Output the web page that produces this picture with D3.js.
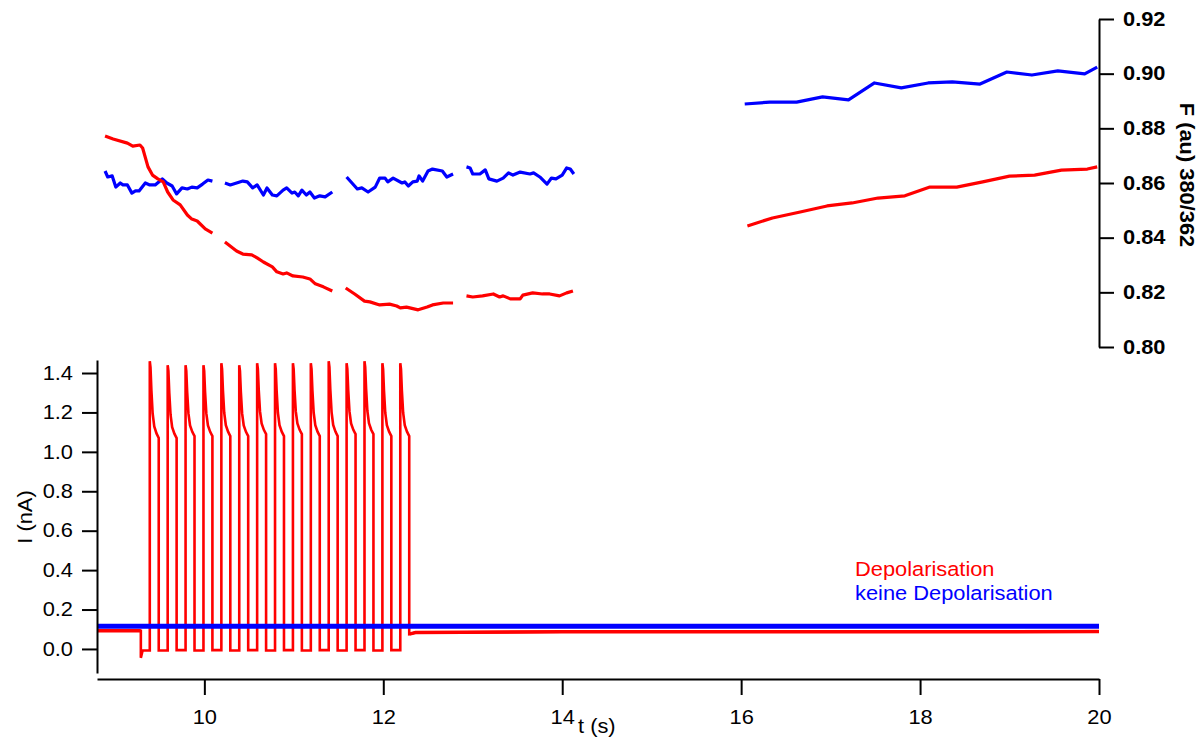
<!DOCTYPE html>
<html>
<head>
<meta charset="utf-8">
<script src="https://cdn.jsdelivr.net/npm/d3@7"></script>
<style>
  body { margin: 0; background: #fff; }
  svg { display: block; font-family: "Liberation Sans", Arial, sans-serif; }
  .axis path, .axis line { stroke: #000; stroke-width: 2; }
</style>
</head>
<body>
<div class="chart"></div>
<script>
// Ratio F (au) 380/362, segments of [t (s), F]
const redSeg1 = [[8.89,0.8772],[8.98,0.8761],[9.14,0.8746],[9.20,0.8735],[9.28,0.8739],[9.31,0.8728],[9.37,0.8659],[9.42,0.8629],[9.48,0.8615],[9.54,0.8604],[9.59,0.8567],[9.65,0.8538],[9.73,0.8520],[9.81,0.8483],[9.86,0.8468],[9.92,0.8461],[10.01,0.8432],[10.09,0.8417]];
const redSeg2 = [[10.23,0.8384],[10.36,0.8351],[10.43,0.8340],[10.53,0.8337],[10.59,0.8326],[10.66,0.8311],[10.76,0.8293],[10.81,0.8275],[10.88,0.8267],[10.92,0.8271],[10.99,0.8260],[11.10,0.8256],[11.18,0.8249],[11.24,0.8231],[11.33,0.8220],[11.43,0.8205]];
const redSeg3 = [[11.58,0.8216],[11.68,0.8194],[11.79,0.8168],[11.85,0.8165],[11.96,0.8154],[12.07,0.8157],[12.15,0.8150],[12.19,0.8143],[12.26,0.8146],[12.39,0.8136],[12.49,0.8146],[12.55,0.8154],[12.67,0.8161],[12.78,0.8161]];
const redSeg4 = [[12.93,0.8187],[13.00,0.8183],[13.11,0.8187],[13.23,0.8194],[13.30,0.8183],[13.34,0.8187],[13.42,0.8176],[13.53,0.8176],[13.56,0.8190],[13.67,0.8198],[13.78,0.8194],[13.86,0.8194],[13.97,0.8187],[14.05,0.8198],[14.12,0.8205]];
const redSeg5 = [[16.07,0.8443],[16.35,0.8472],[16.66,0.8494],[16.96,0.8516],[17.24,0.8527],[17.53,0.8545],[17.83,0.8553],[18.11,0.8585],[18.41,0.8585],[18.70,0.8604],[19.00,0.8625],[19.28,0.8629],[19.58,0.8647],[19.87,0.8651],[19.98,0.8659]];

const blueSeg1 = [[8.89,0.8644],[8.92,0.8622],[8.97,0.8626],[9.01,0.8585],[9.06,0.8600],[9.09,0.8593],[9.14,0.8593],[9.19,0.8563],[9.23,0.8571],[9.27,0.8571],[9.34,0.8600],[9.39,0.8593],[9.45,0.8593],[9.53,0.8615],[9.58,0.8600],[9.64,0.8589],[9.69,0.8560],[9.75,0.8582],[9.81,0.8578],[9.86,0.8585],[9.92,0.8582],[9.98,0.8596],[10.04,0.8611],[10.09,0.8607]];
const blueSeg2 = [[10.23,0.8600],[10.29,0.8593],[10.36,0.8600],[10.43,0.8607],[10.48,0.8604],[10.54,0.8582],[10.59,0.8593],[10.66,0.8556],[10.70,0.8582],[10.76,0.8556],[10.81,0.8553],[10.88,0.8574],[10.92,0.8582],[10.98,0.8563],[11.01,0.8567],[11.05,0.8553],[11.09,0.8574],[11.14,0.8556],[11.18,0.8567],[11.23,0.8545],[11.29,0.8553],[11.35,0.8549],[11.43,0.8567]];
const blueSeg3 = [[11.59,0.8622],[11.71,0.8578],[11.76,0.8582],[11.83,0.8567],[11.91,0.8585],[11.96,0.8618],[12.02,0.8618],[12.05,0.8604],[12.11,0.8618],[12.21,0.8600],[12.24,0.8604],[12.28,0.8589],[12.33,0.8604],[12.38,0.8607],[12.40,0.8626],[12.44,0.8607],[12.50,0.8644],[12.55,0.8651],[12.66,0.8644],[12.71,0.8622],[12.78,0.8633]];
const blueSeg4 = [[12.93,0.8659],[12.97,0.8655],[13.00,0.8633],[13.08,0.8633],[13.14,0.8648],[13.18,0.8615],[13.27,0.8607],[13.34,0.8618],[13.40,0.8637],[13.45,0.8629],[13.53,0.8640],[13.64,0.8633],[13.68,0.8637],[13.75,0.8622],[13.83,0.8596],[13.88,0.8618],[13.93,0.8615],[14.00,0.8629],[14.05,0.8655],[14.09,0.8651],[14.13,0.8633]];
const blueSeg5 = [[16.04,0.8889],[16.32,0.8896],[16.62,0.8896],[16.91,0.8915],[17.20,0.8904],[17.49,0.8966],[17.79,0.8948],[18.09,0.8966],[18.36,0.8970],[18.67,0.8962],[18.97,0.9006],[19.25,0.8995],[19.54,0.9010],[19.84,0.8999],[19.98,0.9024]];

// Current I (nA): depolarisation pulse train
const preLevel = [[8.80,0.092],[9.29,0.092],[9.29,-0.045],[9.31,-0.008]];
const pulseOnsets = [9.39,9.59,9.79,9.99,10.19,10.39,10.59,10.79,10.99,11.19,11.39,11.59,11.79,11.99,12.19];
const pulsePeaks  = [1.46,1.44,1.44,1.44,1.45,1.44,1.45,1.45,1.45,1.45,1.46,1.45,1.46,1.45,1.45];
const pulseEnds   = [1.07,1.07,1.08,1.08,1.08,1.08,1.09,1.08,1.09,1.08,1.08,1.09,1.09,1.08,1.08];
const pulseLows   = [-0.008,-0.006,-0.008,-0.006,-0.008,-0.006,-0.008,-0.006,-0.008,-0.006,-0.008,-0.006,-0.008,-0.006];
// decay inside one pulse: [offset (s), fraction between end and peak]
const pulseDecay = [[0,1],[0.008,0.92],[0.018,0.62],[0.032,0.32],[0.05,0.15],[0.075,0.06],[0.1,0]];
const postLevel = [[12.29,0.075],[12.36,0.083],[14.0,0.087],[20.0,0.088]];
const blueCurrent = [[8.80,0.115],[20.0,0.115]];

const xTicks = [10,12,14,16,18,20];
const iTicks = [0,0.2,0.4,0.6,0.8,1.0,1.2,1.4];
const fTicks = [0.80,0.82,0.84,0.86,0.88,0.90,0.92];

const W = 1204, H = 740;
const SX = 1.12;          // the original's lettering is a little wide
const FS = '19.5px';
const svg = d3.select('.chart').append('svg').attr('width', W).attr('height', H);

// Scales
const x = d3.scaleLinear().domain([8.8, 20]).range([97, 1099]);
const yI = d3.scaleLinear().domain([-0.122, 1.466]).range([673, 360]);
const yF = d3.scaleLinear().domain([0.80, 0.92]).range([347, 19]);

// Build red current trace
const redCurrent = preLevel.slice();
pulseOnsets.forEach((t0, i) => {
  const pk = pulsePeaks[i], en = pulseEnds[i];
  redCurrent.push([t0, redCurrent[redCurrent.length - 1][1]]);
  pulseDecay.forEach(([dt, f]) => redCurrent.push([t0 + dt, en + f * (pk - en)]));
  if (i < pulseLows.length) {
    redCurrent.push([t0 + 0.1, pulseLows[i]]);
  }
});
postLevel.forEach(p => redCurrent.push(p));

const lineI = d3.line().x(d => x(d[0])).y(d => yI(d[1]));
const lineF = d3.line().x(d => x(d[0])).y(d => yF(d[1]));

// Top: fluorescence ratio
const gF = svg.append('g');
[blueSeg1, blueSeg2, blueSeg3, blueSeg4, blueSeg5].forEach(s => {
  gF.append('path').attr('d', lineF(s)).attr('fill', 'none')
    .attr('stroke', '#0000ff').attr('stroke-width', 3.2).attr('stroke-linejoin', 'round');
});
[redSeg1, redSeg2, redSeg3, redSeg4, redSeg5].forEach(s => {
  gF.append('path').attr('d', lineF(s)).attr('fill', 'none')
    .attr('stroke', '#ff0000').attr('stroke-width', 3.2).attr('stroke-linejoin', 'round');
});

// Bottom: current
svg.append('path').attr('d', lineI(redCurrent)).attr('fill', 'none')
  .attr('stroke', '#ff0000').attr('stroke-width', 2.6);
svg.append('path').attr('d', lineI(blueCurrent)).attr('fill', 'none')
  .attr('stroke', '#0000ff').attr('stroke-width', 5);
svg.append('path').attr('d', lineI(postLevel)).attr('fill', 'none')
  .attr('stroke', '#ff0000').attr('stroke-width', 3.5);
svg.append('path').attr('d', lineI(preLevel.slice(0, 2))).attr('fill', 'none')
  .attr('stroke', '#ff0000').attr('stroke-width', 3.5);

// Axes
const xAxis = svg.append('g').attr('class', 'axis')
  .attr('transform', 'translate(0,679)')
  .call(d3.axisBottom(x).tickValues(xTicks).tickFormat(d3.format('d')).tickSize(16).tickSizeOuter(0).tickPadding(15));

const iAxis = svg.append('g').attr('class', 'axis')
  .attr('transform', `translate(${x(8.8)},0)`)
  .call(d3.axisLeft(yI).tickValues(iTicks).tickFormat(d3.format('.1f')).tickSize(15).tickSizeOuter(0).tickPadding(9));

const fAxis = svg.append('g').attr('class', 'axis')
  .attr('transform', `translate(${x(20)},0)`)
  .call(d3.axisRight(yF).tickValues(fTicks).tickFormat(d3.format('.2f')).tickSize(15).tickSizeOuter(0).tickPadding(9));

svg.selectAll('.axis text').attr('fill', '#000')
  .style('font-family', '"Liberation Sans", Arial, sans-serif').style('font-size', FS)
  .attr('x', function() { return +d3.select(this).attr('x') / SX; })
  .attr('transform', `scale(${SX},1)`);
fAxis.selectAll('text').style('font-weight', 'bold');

// Axis labels
function label(tx, ty, rot, str) {
  return svg.append('text')
    .attr('transform', `translate(${tx},${ty}) rotate(${rot}) scale(${SX},1)`)
    .style('font-size', FS).text(str);
}
label(578, 733, 0, 't (s)');
label(32, 517, -90, 'I (nA)').attr('text-anchor', 'middle');
label(1180, 175, 90, 'F (au) 380/362').attr('text-anchor', 'middle').style('font-weight', 'bold');

// Legend
label(855, 576, 0, 'Depolarisation').attr('fill', '#ff0000');
label(855, 600, 0, 'keine Depolarisation').attr('fill', '#0000ff');
</script>
</body>
</html>
